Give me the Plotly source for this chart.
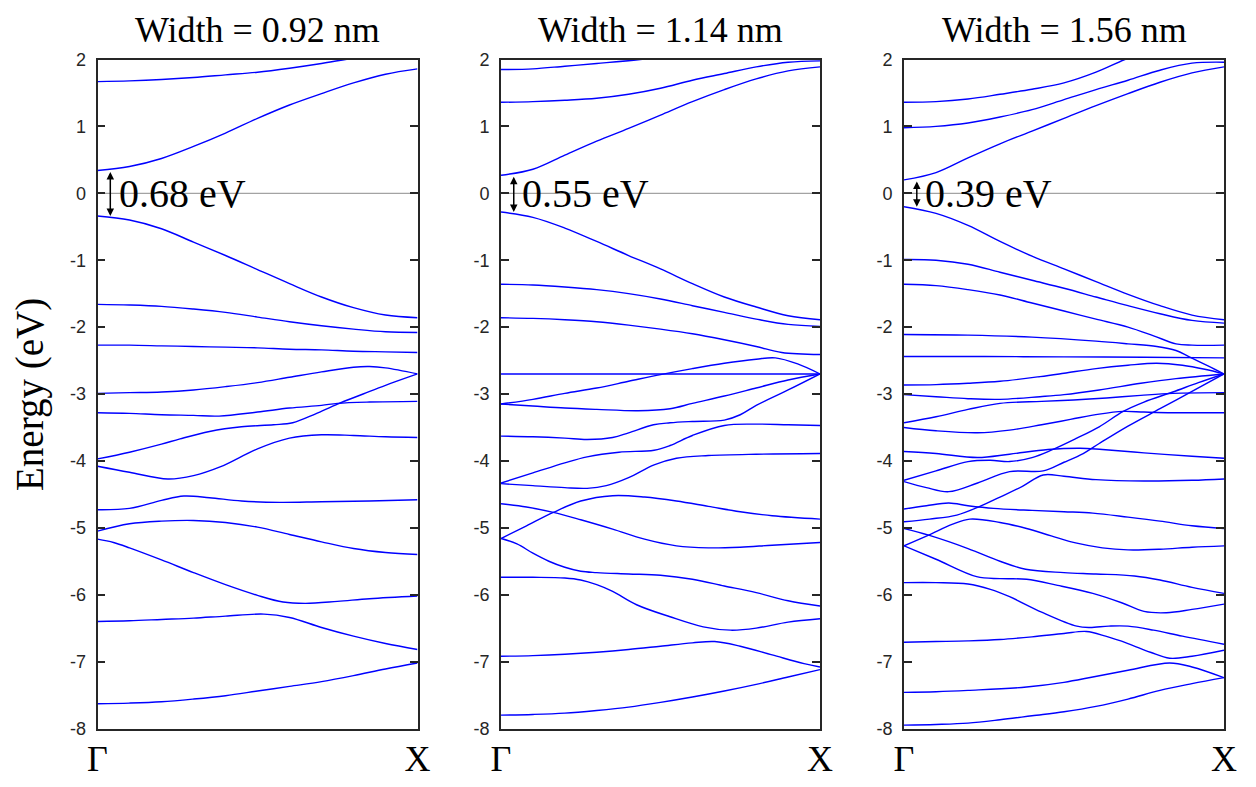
import plotly.graph_objects as go

# ---------------- data ----------------
K11 = [0.0, 0.1, 0.2, 0.3, 0.4, 0.5, 0.6, 0.7, 0.8, 0.9, 1.0]
TITLES = ["Width = 0.92 nm", "Width = 1.14 nm", "Width = 1.56 nm"]
GAP_LABELS = ["0.68 eV", "0.55 eV", "0.39 eV"]
Y_TICKS = [-8, -7, -6, -5, -4, -3, -2, -1, 0, 1, 2]
Y_TICK_LABELS = ["-8", "-7", "-6", "-5", "-4", "-3", "-2", "-1", "0", "1", "2"]
X_TICKS = [0, 1]
X_TICK_LABELS = ["Γ", "X"]

# ---- Width = 0.92 nm ----
P1_C2_K = [0.0, 0.1, 0.2, 0.3, 0.4, 0.5, 0.6, 0.7, 0.8, 0.9, 1.0]
P1_C2 = [1.67, 1.68, 1.70, 1.73, 1.77, 1.81, 1.87, 1.94, 2.02, 2.10, 2.16]
P1_C1 = [0.34, 0.40, 0.52, 0.70, 0.90, 1.12, 1.32, 1.49, 1.65, 1.78, 1.86]
P1_V1 = [-0.34, -0.40, -0.53, -0.73, -0.93, -1.14, -1.35, -1.55, -1.71, -1.82, -1.86]
P1_V2 = [-1.66, -1.67, -1.69, -1.73, -1.78, -1.85, -1.92, -1.98, -2.03, -2.07, -2.08]
P1_V3 = [-2.27, -2.27, -2.28, -2.29, -2.30, -2.31, -2.33, -2.34, -2.36, -2.37, -2.38]
P1_V4_K = [0.0, 0.1, 0.2, 0.3, 0.4, 0.5, 0.6, 0.7, 0.8, 0.85, 0.9, 1.0]
P1_V4 = [-2.99, -2.98, -2.97, -2.94, -2.89, -2.83, -2.75, -2.67, -2.60, -2.59, -2.61, -2.70]
P1_V5_K = [0.0, 0.1, 0.2, 0.3, 0.38, 0.5, 0.6, 0.7, 0.75, 0.85, 1.0]
P1_V5 = [-3.28, -3.29, -3.31, -3.32, -3.33, -3.27, -3.21, -3.17, -3.14, -3.12, -3.11]
P1_V6_K = [0.0, 0.1, 0.2, 0.258, 0.35, 0.45, 0.55, 0.61, 0.68, 0.75, 0.83, 0.9, 1.0]
P1_V6 = [-3.97, -3.87, -3.75, -3.67, -3.56, -3.49, -3.46, -3.43, -3.30, -3.15, -3.00, -2.87, -2.70]
P1_V7_K = [0.0, 0.1, 0.22, 0.3, 0.383, 0.5, 0.6, 0.7, 0.8, 0.9, 1.0]
P1_V7 = [-4.08, -4.17, -4.27, -4.22, -4.09, -3.82, -3.66, -3.61, -3.62, -3.64, -3.65]
P1_V8_K = [0.0, 0.1, 0.2, 0.27, 0.35, 0.45, 0.57, 0.7, 0.85, 1.0]
P1_V8 = [-4.73, -4.71, -4.59, -4.525, -4.55, -4.60, -4.62, -4.61, -4.60, -4.58]
P1_V9 = [-5.05, -4.94, -4.90, -4.89, -4.92, -4.99, -5.10, -5.21, -5.31, -5.37, -5.40]
P1_V10_K = [0.0, 0.05, 0.1, 0.2, 0.3, 0.4, 0.5, 0.58, 0.65, 0.75, 0.85, 1.0]
P1_V10 = [-5.17, -5.22, -5.30, -5.48, -5.67, -5.85, -6.01, -6.11, -6.13, -6.10, -6.06, -6.02]
P1_V11_K = [0.0, 0.1, 0.2, 0.3, 0.4, 0.52, 0.6, 0.7, 0.8, 0.9, 1.0]
P1_V11 = [-6.40, -6.39, -6.37, -6.35, -6.32, -6.29, -6.34, -6.49, -6.62, -6.73, -6.82]
P1_V12 = [-7.63, -7.62, -7.60, -7.56, -7.51, -7.44, -7.37, -7.30, -7.21, -7.11, -7.02]

# ---- Width = 1.14 nm ----
P2_C3_K = [0.0, 0.1, 0.2, 0.3, 0.436, 0.6, 0.8, 1.0]
P2_C3 = [1.85, 1.86, 1.90, 1.94, 2.0, 2.1, 2.2, 2.25]
P2_C2 = [1.36, 1.37, 1.39, 1.42, 1.48, 1.57, 1.69, 1.79, 1.89, 1.96, 1.98]
P2_C1 = [0.27, 0.36, 0.57, 0.78, 0.97, 1.17, 1.37, 1.55, 1.71, 1.83, 1.89]
P2_V1 = [-0.28, -0.36, -0.52, -0.72, -0.93, -1.13, -1.35, -1.55, -1.70, -1.83, -1.89]
P2_V2 = [-1.36, -1.37, -1.40, -1.44, -1.50, -1.58, -1.68, -1.78, -1.88, -1.96, -1.99]
P2_V3_K = [0.0, 0.1, 0.2, 0.3, 0.4, 0.5, 0.6, 0.7, 0.8, 0.88, 1.0]
P2_V3 = [-1.86, -1.87, -1.89, -1.92, -1.97, -2.03, -2.10, -2.19, -2.29, -2.38, -2.41]
P2_V4_K = [0.0, 0.5, 1.0]
P2_V4 = [-2.70, -2.70, -2.70]
P2_V5_K = [0.0, 0.1, 0.2, 0.3, 0.4, 0.5, 0.6, 0.7, 0.8, 0.86, 0.93, 1.0]
P2_V5 = [-3.15, -3.08, -2.99, -2.91, -2.81, -2.71, -2.62, -2.54, -2.48, -2.46, -2.55, -2.70]
P2_V6_K = [0.0, 0.1, 0.2, 0.3, 0.43, 0.53, 0.6, 0.7, 0.8, 0.9, 1.0]
P2_V6 = [-3.15, -3.18, -3.21, -3.23, -3.25, -3.22, -3.14, -3.03, -2.91, -2.79, -2.70]
P2_V7_K = [0.0, 0.1, 0.2, 0.27, 0.35, 0.4, 0.478, 0.53, 0.6, 0.7, 0.75, 0.8, 0.9, 1.0]
P2_V7 = [-3.63, -3.64, -3.66, -3.68, -3.65, -3.58, -3.46, -3.43, -3.41, -3.39, -3.31, -3.17, -2.94, -2.70]
P2_V8_K = [0.0, 0.1, 0.2, 0.27, 0.37, 0.48, 0.53, 0.6, 0.7, 0.8, 0.9, 1.0]
P2_V8 = [-4.33, -4.18, -4.03, -3.94, -3.87, -3.84, -3.77, -3.62, -3.47, -3.45, -3.46, -3.47]
P2_V9_K = [0.0, 0.1, 0.2, 0.27, 0.33, 0.4, 0.48, 0.55, 0.65, 0.8, 1.0]
P2_V9 = [-4.34, -4.37, -4.40, -4.41, -4.37, -4.25, -4.06, -3.96, -3.92, -3.90, -3.89]
P2_V10_K = [0.0, 0.08, 0.164, 0.25, 0.35, 0.45, 0.55, 0.65, 0.75, 0.85, 1.0]
P2_V10 = [-5.16, -4.97, -4.77, -4.60, -4.52, -4.54, -4.60, -4.68, -4.76, -4.82, -4.87]
P2_V11_K = [0.0, 0.08, 0.164, 0.25, 0.35, 0.45, 0.55, 0.65, 0.75, 0.85, 1.0]
P2_V11 = [-4.64, -4.69, -4.77, -4.88, -5.02, -5.17, -5.27, -5.30, -5.29, -5.26, -5.22]
P2_V12_K = [0.0, 0.05, 0.1, 0.15, 0.2, 0.25, 0.3, 0.4, 0.5, 0.6, 0.7, 0.8, 0.9, 1.0]
P2_V12 = [-5.16, -5.24, -5.38, -5.50, -5.59, -5.65, -5.67, -5.69, -5.71, -5.77, -5.87, -5.97, -6.09, -6.17]
P2_V13_K = [0.0, 0.1, 0.2, 0.25, 0.3, 0.35, 0.425, 0.53, 0.634, 0.72, 0.8, 0.9, 1.0]
P2_V13 = [-5.74, -5.74, -5.75, -5.78, -5.85, -5.95, -6.15, -6.33, -6.48, -6.53, -6.50, -6.41, -6.36]
P2_V14_K = [0.0, 0.1, 0.2, 0.3, 0.4, 0.5, 0.6, 0.67, 0.75, 0.85, 0.95, 1.0]
P2_V14 = [-6.92, -6.91, -6.89, -6.86, -6.82, -6.77, -6.72, -6.70, -6.77, -6.90, -7.03, -7.08]
P2_V15 = [-7.80, -7.79, -7.77, -7.73, -7.68, -7.61, -7.53, -7.44, -7.34, -7.23, -7.12]

# ---- Width = 1.56 nm ----
P3_C3_K = [0.0, 0.1, 0.2, 0.3, 0.4, 0.5, 0.6, 0.69, 0.8, 1.0]
P3_C3 = [1.36, 1.37, 1.41, 1.48, 1.555, 1.65, 1.81, 2.0, 2.2, 2.4]
P3_C2 = [0.98, 1.00, 1.05, 1.14, 1.25, 1.40, 1.55, 1.69, 1.84, 1.945, 1.96]
P3_C1 = [0.20, 0.31, 0.53, 0.74, 0.93, 1.12, 1.31, 1.49, 1.66, 1.80, 1.89]
P3_V1 = [-0.20, -0.30, -0.48, -0.72, -0.94, -1.13, -1.32, -1.51, -1.68, -1.82, -1.89]
P3_V2 = [-0.99, -1.00, -1.06, -1.18, -1.30, -1.42, -1.55, -1.68, -1.80, -1.90, -1.94]
P3_V3_K = [0.0, 0.1, 0.2, 0.3, 0.4, 0.5, 0.6, 0.7, 0.78, 0.85, 0.9, 1.0]
P3_V3 = [-1.36, -1.38, -1.44, -1.52, -1.64, -1.76, -1.88, -2.00, -2.13, -2.25, -2.27, -2.27]
P3_V4_K = [0.0, 0.2, 0.4, 0.6, 0.7, 0.79, 0.85, 0.89, 0.95, 1.0]
P3_V4 = [-2.11, -2.12, -2.15, -2.21, -2.25, -2.29, -2.35, -2.44, -2.58, -2.70]
P3_V5_K = [0.0, 0.25, 0.5, 0.75, 1.0]
P3_V5 = [-2.44, -2.44, -2.445, -2.45, -2.46]
P3_V6_K = [0.0, 0.1, 0.2, 0.3, 0.425, 0.5, 0.6, 0.7, 0.79, 0.87, 0.94, 1.0]
P3_V6 = [-2.865, -2.86, -2.84, -2.81, -2.74, -2.69, -2.62, -2.57, -2.54, -2.57, -2.63, -2.70]
P3_V7_K = [0.0, 0.1, 0.2, 0.3, 0.425, 0.5, 0.61, 0.74, 0.85, 1.0]
P3_V7 = [-3.01, -3.04, -3.07, -3.08, -3.04, -3.01, -2.94, -2.84, -2.77, -2.70]
P3_V8_K = [0.0, 0.1, 0.2, 0.3, 0.43, 0.53, 0.633, 0.74, 0.84, 1.0]
P3_V8 = [-3.43, -3.34, -3.23, -3.14, -3.11, -3.09, -3.06, -3.02, -2.99, -2.98]
P3_V9_K = [0.0, 0.1, 0.23, 0.33, 0.43, 0.52, 0.61, 0.685, 0.75, 0.84, 1.0]
P3_V9 = [-3.50, -3.55, -3.58, -3.54, -3.46, -3.38, -3.30, -3.26, -3.27, -3.28, -3.28]
P3_V10_K = [0.0, 0.1, 0.23, 0.33, 0.45, 0.55, 0.62, 0.75, 0.9, 1.0]
P3_V10 = [-3.86, -3.89, -3.95, -3.90, -3.83, -3.81, -3.83, -3.88, -3.93, -3.96]
P3_V11_K = [0.0, 0.1, 0.2, 0.27, 0.33, 0.4, 0.46, 0.54, 0.61, 0.685, 0.75, 0.84, 0.92, 1.0]
P3_V11 = [-4.29, -4.15, -4.01, -3.99, -4.01, -3.95, -3.84, -3.66, -3.49, -3.26, -3.12, -2.97, -2.83, -2.70]
P3_V12_K = [0.0, 0.07, 0.14, 0.23, 0.33, 0.435, 0.5, 0.56, 0.61, 0.7, 0.8, 0.9, 1.0]
P3_V12 = [-4.31, -4.40, -4.46, -4.33, -4.16, -4.15, -4.02, -3.89, -3.74, -3.48, -3.22, -2.96, -2.70]
P3_V13_K = [0.0, 0.08, 0.165, 0.237, 0.3, 0.37, 0.435, 0.5, 0.6, 0.75, 0.9, 1.0]
P3_V13 = [-4.91, -4.87, -4.81, -4.68, -4.54, -4.38, -4.21, -4.23, -4.28, -4.30, -4.29, -4.27]
P3_V14_K = [0.0, 0.07, 0.14, 0.2, 0.28, 0.4, 0.5, 0.59, 0.7, 0.8, 0.9, 1.0]
P3_V14 = [-4.72, -4.67, -4.63, -4.67, -4.71, -4.74, -4.76, -4.78, -4.84, -4.90, -4.97, -5.01]
P3_V15_K = [0.0, 0.077, 0.2, 0.3, 0.38, 0.5, 0.6, 0.72, 0.8, 0.9, 1.0]
P3_V15 = [-5.01, -5.11, -5.31, -5.50, -5.62, -5.67, -5.69, -5.72, -5.78, -5.89, -5.98]
P3_V16_K = [0.0, 0.077, 0.15, 0.206, 0.3, 0.383, 0.46, 0.54, 0.62, 0.7, 0.8, 0.9, 1.0]
P3_V16 = [-5.27, -5.11, -4.95, -4.87, -4.92, -5.01, -5.12, -5.23, -5.30, -5.33, -5.32, -5.29, -5.27]
P3_V17_K = [0.0, 0.1, 0.227, 0.3, 0.383, 0.48, 0.59, 0.68, 0.75, 0.82, 0.9, 1.0]
P3_V17 = [-5.27, -5.47, -5.73, -5.76, -5.77, -5.86, -5.98, -6.12, -6.25, -6.27, -6.22, -6.14]
P3_V18_K = [0.0, 0.1, 0.2, 0.27, 0.33, 0.43, 0.54, 0.58, 0.64, 0.7, 0.78, 0.87, 1.0]
P3_V18 = [-5.82, -5.82, -5.84, -5.92, -6.03, -6.26, -6.47, -6.49, -6.47, -6.47, -6.53, -6.62, -6.74]
P3_V19_K = [0.0, 0.1, 0.2, 0.3, 0.4, 0.5, 0.57, 0.63, 0.7, 0.77, 0.83, 0.9, 1.0]
P3_V19 = [-6.71, -6.70, -6.69, -6.67, -6.63, -6.58, -6.55, -6.62, -6.73, -6.86, -6.95, -6.92, -6.83]
P3_V20_K = [0.0, 0.1, 0.2, 0.383, 0.5, 0.59, 0.7, 0.83, 0.9, 1.0]
P3_V20 = [-7.46, -7.45, -7.43, -7.38, -7.31, -7.23, -7.13, -7.02, -7.08, -7.24]
P3_V21 = [-7.95, -7.94, -7.92, -7.87, -7.81, -7.75, -7.67, -7.56, -7.43, -7.33, -7.24]

PANEL1 = [(P1_C2_K, P1_C2), (K11, P1_C1), (K11, P1_V1), (K11, P1_V2), (K11, P1_V3),
          (P1_V4_K, P1_V4), (P1_V5_K, P1_V5), (P1_V6_K, P1_V6), (P1_V7_K, P1_V7),
          (P1_V8_K, P1_V8), (K11, P1_V9), (P1_V10_K, P1_V10), (P1_V11_K, P1_V11), (K11, P1_V12)]
PANEL2 = [(P2_C3_K, P2_C3), (K11, P2_C2), (K11, P2_C1), (K11, P2_V1), (K11, P2_V2),
          (P2_V3_K, P2_V3), (P2_V4_K, P2_V4), (P2_V5_K, P2_V5), (P2_V6_K, P2_V6),
          (P2_V7_K, P2_V7), (P2_V8_K, P2_V8), (P2_V9_K, P2_V9), (P2_V10_K, P2_V10),
          (P2_V11_K, P2_V11), (P2_V12_K, P2_V12), (P2_V13_K, P2_V13), (P2_V14_K, P2_V14),
          (K11, P2_V15)]
PANEL3 = [(P3_C3_K, P3_C3), (K11, P3_C2), (K11, P3_C1), (K11, P3_V1), (K11, P3_V2),
          (P3_V3_K, P3_V3), (P3_V4_K, P3_V4), (P3_V5_K, P3_V5), (P3_V6_K, P3_V6),
          (P3_V7_K, P3_V7), (P3_V8_K, P3_V8), (P3_V9_K, P3_V9), (P3_V10_K, P3_V10),
          (P3_V11_K, P3_V11), (P3_V12_K, P3_V12), (P3_V13_K, P3_V13), (P3_V14_K, P3_V14),
          (P3_V15_K, P3_V15), (P3_V16_K, P3_V16), (P3_V17_K, P3_V17), (P3_V18_K, P3_V18),
          (P3_V19_K, P3_V19), (P3_V20_K, P3_V20), (K11, P3_V21)]
PANELS = [PANEL1, PANEL2, PANEL3]
CBM = [P1_C1[0], P2_C1[0], P3_C1[0]]
VBM = [P1_V1[0], P2_V1[0], P3_V1[0]]

# ---------------- figure ----------------
# The page body keeps its default 8 px margin, so the figure is 16 px smaller
# than the window and every reference position is shifted by 8 px.
OFF = 8
W, H = 1256 - 2 * OFF, 787 - 2 * OFF


def px_x(p):
    return (p - OFF) / W


def px_y(p):
    return 1 - (p - OFF) / H


X_DOMAINS = [[px_x(97.5), px_x(417.5)], [px_x(501), px_x(820)], [px_x(904), px_x(1224)]]
Y_DOMAIN = [px_y(728.5), px_y(59.5)]
AXIS_COLOR = "#262626"
SERIF = "Liberation Serif, Times New Roman, serif"
SANS = "Liberation Sans, Arial, sans-serif"

fig = go.Figure()
layout = dict(
    width=W, height=H, margin=dict(l=0, r=0, t=0, b=0, autoexpand=False),
    paper_bgcolor="white", plot_bgcolor="white", showlegend=False,
)
annotations = []
shapes = []
for i, bands in enumerate(PANELS):
    n = "" if i == 0 else str(i + 1)
    for ks, es in bands:
        fig.add_trace(go.Scatter(
            x=ks, y=es, mode="lines", xaxis="x" + n, yaxis="y" + n,
            line=dict(color="#0000ff", width=1.4, shape="spline", smoothing=1.0),
            hoverinfo="skip"))
    layout["xaxis" + n] = dict(
        domain=X_DOMAINS[i], range=[0, 1], anchor="y" + n,
        tickmode="array", tickvals=X_TICKS, ticktext=X_TICK_LABELS, ticks="",
        tickfont=dict(family=SERIF, size=36, color="black"), ticklabelstandoff=-3,
        showline=True, linecolor=AXIS_COLOR, linewidth=1.6, mirror=True,
        showgrid=False, zeroline=False, fixedrange=True, automargin=False)
    layout["yaxis" + n] = dict(
        domain=Y_DOMAIN, range=[-8, 2], anchor="x" + n,
        tickmode="array", tickvals=Y_TICKS, ticktext=Y_TICK_LABELS,
        ticks="inside", ticklen=8, tickwidth=1.6, tickcolor=AXIS_COLOR,
        tickfont=dict(family=SANS, size=18, color=AXIS_COLOR), ticklabelstandoff=6,
        showline=True, linecolor=AXIS_COLOR, linewidth=1.6, mirror="ticks",
        showgrid=False, zeroline=False, fixedrange=True, automargin=False)
    # zero-energy reference line
    shapes.append(dict(type="line", xref="x" + n + " domain", yref="y" + n,
                       x0=0, x1=1, y0=0, y1=0, line=dict(color="#8c8c8c", width=1),
                       layer="below"))
    # band-gap arrow
    annotations.append(dict(
        x=0.04, y=VBM[i], ax=0.04, ay=CBM[i], xref="x" + n, yref="y" + n,
        axref="x" + n, ayref="y" + n, text="", showarrow=True,
        arrowhead=2, startarrowhead=2, arrowside="end+start",
        arrowsize=1.0, arrowwidth=1.5, arrowcolor="black", standoff=0, startstandoff=0))
    annotations.append(dict(
        x=0.06, y=0, xref="x" + n, yref="y" + n, text=GAP_LABELS[i],
        showarrow=False, xanchor="left", yanchor="middle",
        font=dict(family=SERIF, size=40, color="black")))
    annotations.append(dict(
        x=(X_DOMAINS[i][0] + X_DOMAINS[i][1]) / 2, y=1.0, xref="paper", yref="paper",
        text=TITLES[i], showarrow=False, xanchor="center", yanchor="top",
        font=dict(family=SERIF, size=36, color="black")))

annotations.append(dict(
    x=px_x(30), y=px_y(395), xref="paper", yref="paper", text="Energy (eV)",
    textangle=-90, showarrow=False, xanchor="center", yanchor="middle",
    font=dict(family=SERIF, size=39, color="black")))

layout["annotations"] = annotations
layout["shapes"] = shapes
fig.update_layout(**layout)
fig.write_html("out.html")
